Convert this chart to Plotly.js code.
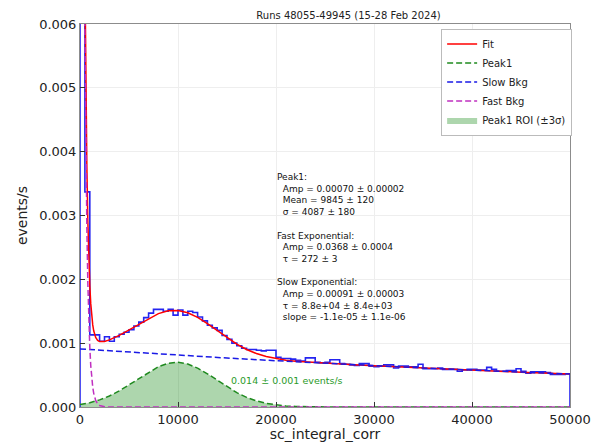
<!DOCTYPE html>
<html>
<head>
<meta charset="utf-8">
<script src="https://cdn.plot.ly/plotly-3.0.1.min.js"></script>
<style>html,body{margin:0;padding:0;background:#fff;}#chart{width:593px;height:442px;}</style>
</head>
<body>
<div id="chart"></div>
<script>
// ---- Data ----
const binWidth = 500;
// histogram rate per 500-wide bin, from 0 to 50000 (events/s)
const histRates = [
  0.0158, 0.00337, 0.00113, 0.00113, 0.00103, 0.00110, 0.00103, 0.00110, 0.00114, 0.00117,
  0.00121, 0.00127, 0.00133, 0.00140, 0.00147, 0.00153, 0.00153, 0.00150, 0.00153, 0.00144,
  0.00152, 0.00144, 0.00150, 0.00148, 0.00141, 0.00135, 0.00128, 0.00124, 0.00120, 0.00112,
  0.00106, 0.00100, 0.00096, 0.00092, 0.00090, 0.00090, 0.00089, 0.00088, 0.00089, 0.00089,
  0.00078, 0.00076, 0.00076, 0.00075, 0.00073, 0.00072, 0.00077, 0.00077, 0.00070, 0.00069,
  0.00070, 0.00074, 0.00074, 0.00068, 0.00067, 0.00066, 0.00065, 0.00068, 0.00068, 0.00064,
  0.00063, 0.00064, 0.00066, 0.00066, 0.00061, 0.00064, 0.00064, 0.00063, 0.00063, 0.00067,
  0.00060, 0.00060, 0.00060, 0.00061, 0.00059, 0.00059, 0.00059, 0.00056, 0.00058, 0.00059,
  0.00059, 0.00058, 0.00058, 0.00062, 0.00059, 0.00056, 0.00056, 0.00057, 0.00057, 0.00060,
  0.00056, 0.00053, 0.00055, 0.00055, 0.00055, 0.00054, 0.00051, 0.00051, 0.00051, 0.00052
];

// Fit (total) curve
const fitX = [0, 100, 200, 300, 400, 500, 600, 700, 800, 900, 1000, 1100, 1200, 1300, 1400, 1600, 1800, 2000, 2500, 3000,
  4000, 5000, 6000, 7000, 8000, 9000, 10000, 11000, 12000, 13000, 14000, 15000, 16000, 17000, 18000, 19000,
  20000, 21000, 22000, 24000, 26000, 28000, 30000, 35000, 40000, 45000, 50000];
const fitY = [0.03775, 0.02643, 0.01859, 0.01316, 0.009414, 0.00681, 0.00501, 0.003766, 0.002905, 0.00231, 0.001898,
  0.001615, 0.001419, 0.001286, 0.001194, 0.00109, 0.001043, 0.001025, 0.001028, 0.001051,
  0.001122, 0.001207, 0.0013, 0.001389, 0.001463, 0.001506, 0.001512, 0.001476, 0.001403, 0.001305, 0.001194,
  0.001083, 0.000984, 0.000901, 0.000838, 0.00079, 0.000757, 0.000734, 0.000717, 0.000695, 0.000677, 0.000662,
  0.000647, 0.000611, 0.000578, 0.000546, 0.000516];

// Peak1 gaussian component
const peakX = [0, 1000, 2000, 3000, 4000, 5000, 6000, 7000, 8000, 9000, 10000, 11000, 12000, 13000, 14000, 15000,
  16000, 17000, 18000, 19000, 20000, 21000, 22000, 23000, 24000, 25000, 30000, 50000];
const peakY = [0.0000385, 0.0000673, 0.000111, 0.000172, 0.000252, 0.000347, 0.00045, 0.000549, 0.000632, 0.000685,
  0.0007, 0.000673, 0.000609, 0.00052, 0.000418, 0.000316, 0.000225, 0.000151, 0.0000956, 0.000057, 0.000032,
  0.0000169, 0.0000084, 0.0000039, 0.0000017, 0.000001, 0, 0];

// Peak1 ROI (±3σ) fill
const roiX = [0, 1000, 2000, 3000, 4000, 5000, 6000, 7000, 8000, 9000, 10000, 11000, 12000, 13000, 14000, 15000,
  16000, 17000, 18000, 19000, 20000, 21000, 22000, 22100];
const roiY = [0.0000385, 0.0000673, 0.000111, 0.000172, 0.000252, 0.000347, 0.00045, 0.000549, 0.000632, 0.000685,
  0.0007, 0.000673, 0.000609, 0.00052, 0.000418, 0.000316, 0.000225, 0.000151, 0.0000956, 0.000057, 0.000032,
  0.0000169, 0.0000084, 0.0000079];

// Slow background
const slowX = [0, 5000, 10000, 15000, 20000, 25000, 30000, 35000, 40000, 45000, 50000];
const slowY = [0.00091, 0.00086, 0.000812, 0.000767, 0.000725, 0.000685, 0.000647, 0.000611, 0.000578, 0.000546, 0.000516];

// Fast background
const fastX = [0, 100, 200, 300, 400, 500, 600, 700, 800, 900, 1000, 1100, 1200, 1300, 1400, 1600, 1800, 2000, 2500, 3000, 50000];
const fastY = [0.0368, 0.02548, 0.01764, 0.01221, 0.00846, 0.00585, 0.00405, 0.002806, 0.001943, 0.001345, 0.000931,
  0.000645, 0.000446, 0.000309, 0.000214, 0.000103, 0.000049, 0.000024, 0.000004, 0.000001, 0];

const titleText = 'Runs 48055-49945 (15-28 Feb 2024)';
const xLabel = 'sc_integral_corr';
const yLabel = 'events/s';
const yTicks = [0, 0.001, 0.002, 0.003, 0.004, 0.005, 0.006];
const xTicks = [0, 10000, 20000, 30000, 40000, 50000];
const fitText = [
  'Peak1:',
  '\u00a0\u00a0Amp = 0.00070 \u00b1 0.00002',
  '\u00a0\u00a0Mean = 9845 \u00b1 120',
  '\u00a0\u00a0\u03c3 = 4087 \u00b1 180',
  '',
  'Fast Exponential:',
  '\u00a0\u00a0Amp = 0.0368 \u00b1 0.0004',
  '\u00a0\u00a0\u03c4 = 272 \u00b1 3',
  '',
  'Slow Exponential:',
  '\u00a0\u00a0Amp = 0.00091 \u00b1 0.00003',
  '\u00a0\u00a0\u03c4 = 8.8e+04 \u00b1 8.4e+03',
  '\u00a0\u00a0slope = -1.1e-05 \u00b1 1.1e-06'
];
const roiText = '0.014 \u00b1 0.001 events/s';

// ---- Build step histogram ----
const histX = [0];
const histY = [0];
for (let i = 0; i < histRates.length; i++) {
  histX.push(i * binWidth);
  histY.push(histRates[i]);
}
histX.push(histRates.length * binWidth, histRates.length * binWidth);
histY.push(histRates[histRates.length - 1], 0);

const FONT = 'DejaVu Sans, sans-serif';
const dashStyle = '6px,3px';

const traces = [
  {x: roiX, y: roiY, type: 'scatter', mode: 'lines', fill: 'tozeroy',
   fillcolor: 'rgba(0,128,0,0.32)', line: {width: 0, color: 'rgba(0,128,0,0.32)'},
   name: 'Peak1 ROI (\u00b13\u03c3)', legendrank: 5},
  {x: histX, y: histY, type: 'scatter', mode: 'lines', line: {shape: 'hv', color: '#2424f0', width: 1.6},
   showlegend: false, hoverinfo: 'skip'},
  {x: fitX, y: fitY, type: 'scatter', mode: 'lines', line: {color: '#ff0000', width: 1.5},
   name: 'Fit', legendrank: 1},
  {x: peakX, y: peakY, type: 'scatter', mode: 'lines', line: {color: '#1f8a1f', width: 1.5, dash: dashStyle},
   name: 'Peak1', legendrank: 2},
  {x: slowX, y: slowY, type: 'scatter', mode: 'lines', line: {color: '#1a1ae6', width: 1.5, dash: dashStyle},
   name: 'Slow Bkg', legendrank: 3},
  {x: fastX, y: fastY, type: 'scatter', mode: 'lines', line: {color: '#c030c0', width: 1.5, dash: dashStyle},
   name: 'Fast Bkg', legendrank: 4}
];

const layout = {
  width: 593, height: 442,
  margin: {l: 80, r: 23, t: 24, b: 35},
  paper_bgcolor: '#ffffff', plot_bgcolor: '#ffffff',
  font: {family: FONT, color: '#222'},
  showlegend: true,
  title: {text: titleText, font: {family: FONT, size: 10, color: '#222'},
          x: 0.548, xref: 'paper', xanchor: 'center', y: 0.966, yref: 'container', yanchor: 'middle'},
  xaxis: {range: [0, 50000], tickvals: xTicks, ticktext: xTicks.map(String),
          ticks: 'inside', ticklen: 5, tickcolor: '#333', tickwidth: 1,
          showline: true, linecolor: '#8c8c8c', linewidth: 1, mirror: true,
          showgrid: true, gridcolor: '#eeeeee', gridwidth: 1, zeroline: false,
          tickfont: {family: FONT, size: 13, color: '#222'},
          title: {text: xLabel, font: {family: FONT, size: 14, color: '#222'}, standoff: 2}},
  yaxis: {range: [0, 0.006], tickvals: yTicks, tickformat: '.3f',
          ticks: 'inside', ticklen: 5, tickcolor: '#333', tickwidth: 1,
          showline: true, linecolor: '#8c8c8c', linewidth: 1, mirror: true,
          showgrid: true, gridcolor: '#eeeeee', gridwidth: 1, zeroline: false,
          tickfont: {family: FONT, size: 13, color: '#222'},
          title: {text: yLabel, font: {family: FONT, size: 14, color: '#222'}, standoff: 8}},
  legend: {x: 0.737, y: 0.988, xanchor: 'left', yanchor: 'top', bgcolor: '#ffffff',
           bordercolor: '#bbbbbb', borderwidth: 1, font: {family: FONT, size: 10, color: '#222'},
           traceorder: 'normal', itemwidth: 30},
  annotations: [
    {text: fitText.join('<br>'), xref: 'paper', yref: 'paper', x: (275 - 80) / 490, y: (407 - 170) / 383,
     xanchor: 'left', yanchor: 'top', align: 'left', showarrow: false,
     font: {family: FONT, size: 9, color: '#111'}},
    {text: roiText, xref: 'x', yref: 'paper', x: 15200, y: (407 - 380) / 383, xanchor: 'left', yanchor: 'middle',
     showarrow: false, font: {family: FONT, size: 9.5, color: '#2a9a2a'}}
  ]
};

Plotly.newPlot('chart', traces, layout, {displayModeBar: false, staticPlot: true});
</script>
</body>
</html>
